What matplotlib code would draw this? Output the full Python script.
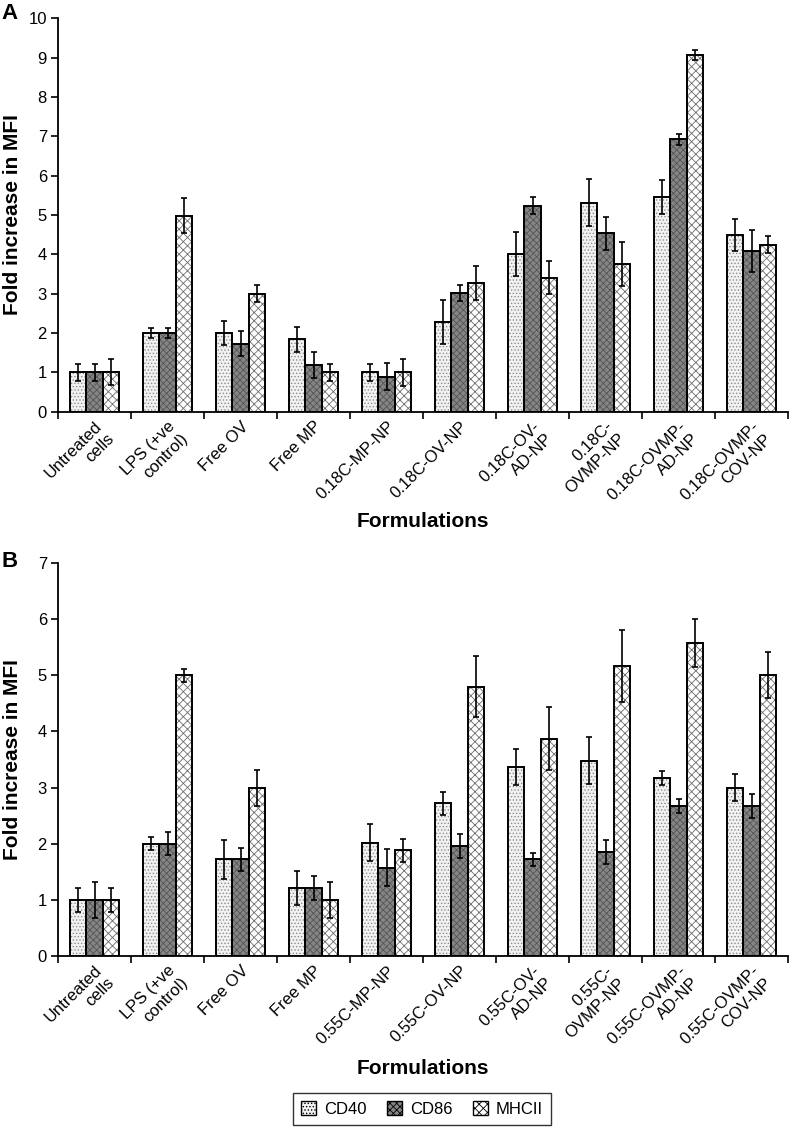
import numpy as np
import matplotlib
matplotlib.use("Agg")
import matplotlib.pyplot as plt
from matplotlib.patches import Patch
from matplotlib.transforms import ScaledTranslation

plt.rcParams['font.family'] = ['Liberation Sans', 'DejaVu Sans']
plt.rcParams['hatch.linewidth'] = 0.6

markers = ['CD40', 'CD86', 'MHCII']

labels_a = ['Untreated\ncells', 'LPS (+ve\ncontrol)', 'Free OV', 'Free MP', '0.18C-MP-NP',
            '0.18C-OV-NP', '0.18C-OV-\nAD-NP', '0.18C-\nOVMP-NP', '0.18C-OVMP-\nAD-NP',
            '0.18C-OVMP-\nCOV-NP']
cd40_a = [1.0, 2.0, 2.0, 1.84, 1.0, 2.28, 4.0, 5.31, 5.46, 4.49]
cd86_a = [1.0, 2.0, 1.73, 1.19, 0.89, 3.01, 5.24, 4.53, 6.92, 4.08]
mhc_a = [1.0, 4.98, 3.0, 1.0, 1.0, 3.27, 3.41, 3.76, 9.06, 4.25]
cd40_a_err = [0.22, 0.12, 0.31, 0.32, 0.22, 0.57, 0.56, 0.60, 0.43, 0.41]
cd86_a_err = [0.22, 0.12, 0.32, 0.33, 0.34, 0.20, 0.22, 0.43, 0.13, 0.53]
mhc_a_err = [0.33, 0.44, 0.21, 0.22, 0.34, 0.43, 0.42, 0.56, 0.13, 0.22]

labels_b = ['Untreated\ncells', 'LPS (+ve\ncontrol)', 'Free OV', 'Free MP', '0.55C-MP-NP',
            '0.55C-OV-NP', '0.55C-OV-\nAD-NP', '0.55C-\nOVMP-NP', '0.55C-OVMP-\nAD-NP',
            '0.55C-OVMP-\nCOV-NP']
cd40_b = [1.0, 2.0, 1.72, 1.21, 2.02, 2.72, 3.36, 3.48, 3.17, 3.0]
cd86_b = [1.0, 2.0, 1.72, 1.21, 1.57, 1.96, 1.72, 1.85, 2.67, 2.67]
mhc_b = [1.0, 5.0, 3.0, 1.0, 1.88, 4.8, 3.87, 5.16, 5.58, 5.0]
cd40_b_err = [0.22, 0.12, 0.34, 0.31, 0.33, 0.21, 0.32, 0.42, 0.13, 0.24]
cd86_b_err = [0.32, 0.20, 0.21, 0.21, 0.33, 0.21, 0.12, 0.21, 0.12, 0.21]
mhc_b_err = [0.22, 0.12, 0.32, 0.32, 0.21, 0.55, 0.56, 0.64, 0.43, 0.41]

# face colour, hatch, hatch colour
styles = [('#f2f2f2', '.....', '#8c8c8c'),
          ('#858585', 'xxxxx', '#555555'),
          ('#ffffff', 'xxxx', '#6e6e6e')]

W = 0.225


def panel(fig, ax, labels, series, errs, ymax, label_y):
    x = np.arange(len(labels))
    for k, (vals, err) in enumerate(zip(series, errs)):
        pos = x + (k - 1) * W
        fc, h, hc = styles[k]
        ax.bar(pos, vals, W, color=fc, hatch=h, edgecolor=hc, linewidth=0, zorder=2)
        ax.bar(pos, vals, W, fill=False, edgecolor='black', linewidth=1.4, zorder=3)
        ax.errorbar(pos, vals, yerr=err, fmt='none', ecolor='black', elinewidth=1.2,
                    capsize=2.5, capthick=1.2, zorder=4)
    ax.set_xlim(-0.5, len(labels) - 0.5)
    ax.set_ylim(0, ymax)
    ax.set_yticks(np.arange(0, ymax + 1))
    ax.set_xticks(np.arange(-0.5, len(labels)))
    ax.set_xticklabels([])
    ax.set_xticks(x, minor=True)
    ax.set_xticklabels(labels, minor=True, rotation=45, ha='right',
                       rotation_mode='anchor', fontsize=12)
    shift = ScaledTranslation(-9 / 100, 0, fig.dpi_scale_trans)
    for t in ax.get_xticklabels(minor=True):
        t.set_transform(t.get_transform() + shift)
    ax.tick_params(axis='x', which='minor', length=0, pad=5)
    ax.tick_params(axis='x', which='major', length=5, width=1.2, direction='out')
    ax.tick_params(axis='y', length=5, width=1.2, direction='out', labelsize=12, pad=3)
    for s in ['top', 'right']:
        ax.spines[s].set_visible(False)
    for s in ['left', 'bottom']:
        ax.spines[s].set_linewidth(1.3)
    ax.set_ylabel('Fold increase in MFI', fontsize=15, fontweight='bold')
    ax.yaxis.set_label_coords(-0.049, 0.5)
    ax.set_xlabel('Formulations', fontsize=15, fontweight='bold')
    ax.xaxis.set_label_coords(0.5, label_y)


fig = plt.figure(figsize=(7.89, 11.27), dpi=100)
ax1 = fig.add_axes([58 / 789, 1 - 411.7 / 1127, 730 / 789, 393.4 / 1127])
ax2 = fig.add_axes([58 / 789, 1 - 956 / 1127, 730 / 789, 393 / 1127])

panel(fig, ax1, labels_a, [cd40_a, cd86_a, mhc_a], [cd40_a_err, cd86_a_err, mhc_a_err], 10, -0.255)
panel(fig, ax2, labels_b, [cd40_b, cd86_b, mhc_b], [cd40_b_err, cd86_b_err, mhc_b_err], 7, -0.262)

fig.text(0.002, 1 - 3 / 1127, 'A', fontsize=16, fontweight='bold', va='top', ha='left')
fig.text(0.002, 1 - 551 / 1127, 'B', fontsize=16, fontweight='bold', va='top', ha='left')

handles = [Patch(facecolor=fc, hatch=h, edgecolor='black', linewidth=1) for fc, h, hc in styles]
fig.legend(handles, markers, loc='center', bbox_to_anchor=(422 / 789, 1 - 1109 / 1127),
           ncol=3, fontsize=12, frameon=True, fancybox=False, edgecolor='black',
           handlelength=0.9, handleheight=0.9, handletextpad=0.5, columnspacing=1.2,
           borderpad=0.5)

fig.savefig('out.png', dpi=100)
